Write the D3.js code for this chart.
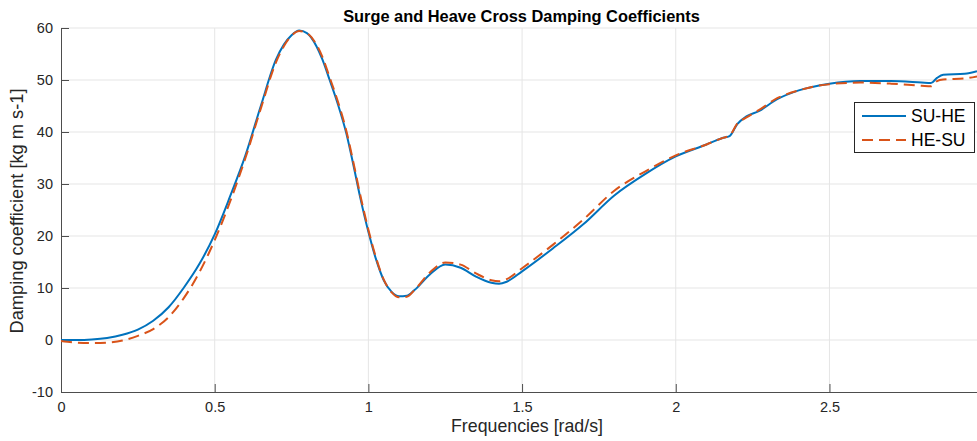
<!DOCTYPE html>
<html><head><meta charset="utf-8">
<script src="https://cdn.jsdelivr.net/npm/d3@7"></script>
<style>body{margin:0;background:#fff;} text{font-family:"Liberation Sans",Arial,sans-serif;}</style>
</head><body><svg id="c" width="977" height="441"></svg>
<script>
const freqSU = [0,0.05,0.10,0.15,0.20,0.25,0.30,0.35,0.40,0.45,0.50,0.55,0.60,0.65,0.70,0.725,0.75,0.775,0.80,0.831,0.85,0.874,0.90,0.928,0.95,0.975,1.0,1.025,1.05,1.075,1.10,1.125,1.15,1.20,1.25,1.30,1.35,1.40,1.425,1.45,1.50,1.60,1.70,1.80,1.90,2.00,2.10,2.15,2.175,2.20,2.23,2.27,2.33,2.40,2.50,2.60,2.70,2.80,2.83,2.85,2.87,2.94,2.98];
const valSU  = [0,0,0.1,0.4,1.0,2.0,3.7,6.3,10.1,14.6,20.3,27.6,35.5,45.0,54.0,56.8,58.6,59.5,59.0,56.5,54.0,50.0,45.5,39.8,34.0,27.0,20.8,15.5,11.5,9.3,8.4,8.5,9.6,12.6,14.5,13.9,12.2,11.0,10.8,11.2,13.2,17.6,22.3,27.8,31.9,35.3,37.6,38.8,39.2,41.5,43.0,44.0,46.3,48.0,49.3,49.8,49.8,49.5,49.4,50.4,51.0,51.2,51.7];
const freqHS = [0,0.05,0.10,0.15,0.20,0.25,0.30,0.35,0.40,0.45,0.50,0.55,0.60,0.65,0.70,0.725,0.75,0.775,0.80,0.831,0.85,0.874,0.90,0.928,0.95,0.975,1.0,1.025,1.05,1.075,1.10,1.125,1.15,1.20,1.25,1.30,1.35,1.40,1.425,1.45,1.50,1.60,1.70,1.80,1.90,2.00,2.10,2.15,2.175,2.20,2.23,2.27,2.33,2.40,2.50,2.60,2.70,2.80,2.83,2.85,2.87,2.94,2.98];
const valHS  = [-0.2,-0.5,-0.6,-0.5,-0.1,0.8,2.1,4.4,8.1,13.0,19.2,26.6,35.0,44.5,53.5,56.5,58.5,59.4,59.0,56.8,54.5,50.5,46.0,40.3,34.5,27.5,21.2,15.8,11.6,9.2,8.2,8.3,9.6,13.0,14.9,14.5,12.8,11.5,11.3,11.7,13.8,18.3,23.2,28.7,32.4,35.5,37.6,38.8,39.3,41.6,42.8,44.2,46.5,48.0,49.2,49.5,49.3,48.9,48.8,49.8,50.1,50.3,50.7];
const xTicks = [0,0.5,1,1.5,2,2.5];
const yTicks = [-10,0,10,20,30,40,50,60];
const seriesNames = ["SU-HE","HE-SU"];
const colors = ["#0072BD","#D95319"];

const svg = d3.select("#c");
const L=61, R=977, T=28, B=392;
const x = d3.scaleLinear().domain([0,2.98]).range([L,R]);
const y = d3.scaleLinear().domain([-10,60]).range([B,T]);

function fitText(sel, target, base){
  const w = sel.node().getComputedTextLength();
  if (w>0) sel.style("font-size", (base*target/w).toFixed(2)+"px");
}

// grid
const g = svg.append("g");
g.selectAll(".gx").data(xTicks.filter(d=>d>0)).enter().append("line")
  .attr("x1",d=>x(d)).attr("x2",d=>x(d)).attr("y1",T).attr("y2",B)
  .attr("stroke","#e5e5e5").attr("stroke-width",1);
g.selectAll(".gy").data(yTicks.filter(d=>d>-10)).enter().append("line")
  .attr("x1",L).attr("x2",R).attr("y1",d=>y(d)).attr("y2",d=>y(d))
  .attr("stroke","#e5e5e5").attr("stroke-width",1);

// axes
const xAxis = d3.axisBottom(x).tickValues(xTicks).tickSize(-8).tickPadding(16).tickFormat(d=>d);
const yAxis = d3.axisLeft(y).tickValues(yTicks).tickSize(-8).tickPadding(16).tickFormat(d=>d);
const ax = svg.append("g").attr("transform",`translate(0,${B})`).call(xAxis);
const ay = svg.append("g").attr("transform",`translate(${L},0)`).call(yAxis);
[ax,ay].forEach(a=>{
  a.select(".domain").attr("stroke","#4d4d4d");
  a.selectAll(".tick line").attr("stroke","#4d4d4d");
  a.selectAll(".tick text").attr("fill","#262626").style("font-size","14.5px").style("font-family","Liberation Sans, Arial, sans-serif");
});
ay.selectAll(".tick text").attr("x",-8);
ax.selectAll(".tick text").attr("y",10);

// lines
svg.append("clipPath").attr("id","clp").append("rect").attr("x",L).attr("y",T-2).attr("width",R-L).attr("height",B-T+2);
const line = d3.line().x(d=>x(d[0])).y(d=>y(d[1])).curve(d3.curveMonotoneX);
const dSU = freqSU.map((f,i)=>[f,valSU[i]]);
const dHS = freqHS.map((f,i)=>[f,valHS[i]]);
svg.append("path").datum(dSU).attr("d",line).attr("fill","none").attr("stroke",colors[0]).attr("stroke-width",2).attr("clip-path","url(#clp)");
svg.append("path").datum(dHS).attr("d",line).attr("fill","none").attr("stroke",colors[1]).attr("stroke-width",2).attr("stroke-dasharray","11,6").attr("clip-path","url(#clp)");

// title & labels
const tt = svg.append("text").attr("x",521.5).attr("y",22).attr("text-anchor","middle").style("font-size","14px").style("font-weight","bold").attr("fill","#000").text("Surge and Heave Cross Damping Coefficients");
fitText(tt, 357, 14);
const xl = svg.append("text").attr("x",527).attr("y",432).attr("text-anchor","middle").style("font-size","15px").attr("fill","#262626").text("Frequencies [rad/s]");
fitText(xl, 152, 15);
const yl = svg.append("text").attr("transform","translate(23,211) rotate(-90)").attr("text-anchor","middle").style("font-size","15px").attr("fill","#262626").text("Damping coefficient [kg m s-1]");
fitText(yl, 245, 15);

// legend
const lg = svg.append("g");
lg.append("rect").attr("x",854.5).attr("y",102.5).attr("width",120).attr("height",50).attr("fill","#fff").attr("stroke","#262626").attr("stroke-width",1);
seriesNames.forEach((n,i)=>{
  const yy = 116 + i*24;
  lg.append("line").attr("x1",862).attr("x2",906).attr("y1",yy).attr("y2",yy).attr("stroke",colors[i]).attr("stroke-width",2).attr("stroke-dasharray",i?"11,6":null);
  const t = lg.append("text").attr("x",911).attr("y",yy+6).style("font-size","16px").attr("fill","#000").text(n);
  fitText(t, 54.5, 16);
});
</script></body></html>
